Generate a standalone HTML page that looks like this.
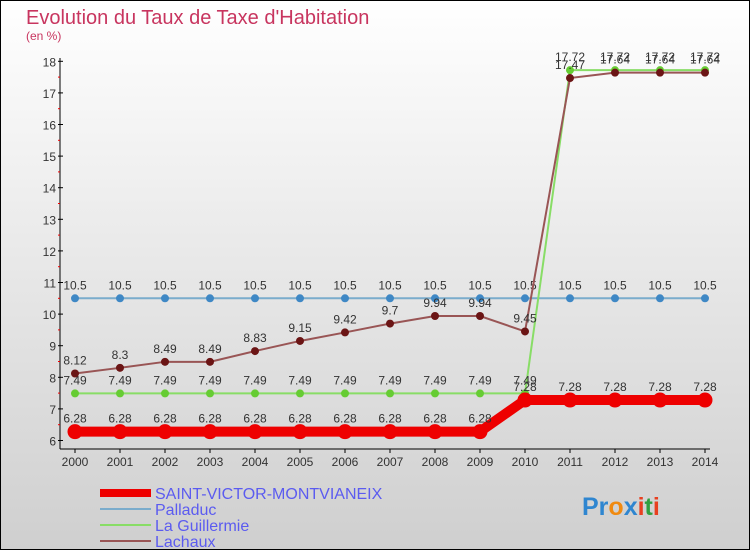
<!DOCTYPE html>
<html><head><meta charset="utf-8"><style>
body{margin:0;width:750px;height:550px;overflow:hidden}
svg{display:block;font-family:"Liberation Sans",sans-serif}
</style></head><body>
<svg id="c" width="750" height="550">
<defs><linearGradient id="bg" x1="0" y1="0" x2="0" y2="1"><stop offset="0" stop-color="#ffffff"/><stop offset="1" stop-color="#cfcfcf"/></linearGradient></defs>
<rect x="0.5" y="0.5" width="749" height="549" fill="url(#bg)" stroke="#000"/>
<text x="26" y="24" font-size="20" fill="#c8355f">Evolution du Taux de Taxe d'Habitation</text>
<text x="26" y="40" font-size="12" fill="#c8355f">(en %)</text>
<g id="axes"></g><g id="marks"></g>
<g>
<line x1="100" y1="493" x2="151" y2="493" stroke="#ee0000" stroke-width="8"/>
<text x="155" y="499" font-size="16" fill="#5b5bf0">SAINT-VICTOR-MONTVIANEIX</text>
<line x1="100" y1="509" x2="151" y2="509" stroke="#7aaccc" stroke-width="2"/>
<text x="155" y="515" font-size="16" fill="#5b5bf0">Palladuc</text>
<line x1="100" y1="525" x2="151" y2="525" stroke="#88dd66" stroke-width="2"/>
<text x="155" y="531" font-size="16" fill="#5b5bf0">La Guillermie</text>
<line x1="100" y1="541" x2="151" y2="541" stroke="#995555" stroke-width="2"/>
<text x="155" y="547" font-size="16" fill="#5b5bf0">Lachaux</text>
</g>
<text x="582" y="515" font-size="25" font-weight="bold"><tspan fill="#2f86d0">Pr</tspan><tspan fill="#f08a10">o</tspan><tspan fill="#2f86d0">x</tspan><tspan fill="#e84020">i</tspan><tspan fill="#30a040">t</tspan><tspan fill="#e84020">i</tspan></text>
</svg>
<script>
const years=[2000,2001,2002,2003,2004,2005,2006,2007,2008,2009,2010,2011,2012,2013,2014];
const yTicks=[6,7,8,9,10,11,12,13,14,15,16,17,18];
const saintVictor=[6.28,6.28,6.28,6.28,6.28,6.28,6.28,6.28,6.28,6.28,7.28,7.28,7.28,7.28,7.28];
const palladuc=[10.5,10.5,10.5,10.5,10.5,10.5,10.5,10.5,10.5,10.5,10.5,10.5,10.5,10.5,10.5];
const laGuillermie=[7.49,7.49,7.49,7.49,7.49,7.49,7.49,7.49,7.49,7.49,7.49,17.72,17.72,17.72,17.72];
const lachaux=[8.12,8.3,8.49,8.49,8.83,9.15,9.42,9.7,9.94,9.94,9.45,17.47,17.64,17.64,17.64];
const NS='http://www.w3.org/2000/svg';
const xs=i=>75+i*45, ys=v=>440.5-(v-6)*31.6;
function mk(p,t,a){const e=document.createElementNS(NS,t);for(const k in a)e.setAttribute(k,a[k]);p.appendChild(e);return e;}
const ax=document.getElementById('axes'),mg=document.getElementById('marks');
let l=mk(ax,'line',{x1:60,y1:58,x2:60,y2:449,stroke:'#000'});


l=mk(ax,'line',{x1:60,y1:449,x2:710,y2:449,stroke:'#000'});


yTicks.forEach(v=>{
 const y=ys(v);
 mk(ax,'line',{x1:58,y1:y,x2:63,y2:y,stroke:'#000'});
 if(v<18)mk(ax,'line',{x1:58,y1:y-15.8,x2:60,y2:y-15.8,stroke:'#e00'});
 const t=mk(ax,'text',{x:56,y:y+5,'font-size':12,fill:'#333','text-anchor':'end'});t.textContent=v;
 
 
});
years.forEach((yr,i)=>{
 mk(ax,'line',{x1:xs(i),y1:449,x2:xs(i),y2:453,stroke:'#000'});
 const t=mk(ax,'text',{x:xs(i),y:466,'font-size':12,fill:'#333','text-anchor':'middle'});t.textContent=yr;
 
 
});
function series(name,data,color,dot,w,r){
 const g=mk(mg,'g',{});
 
 
 mk(g,'polyline',{points:data.map((v,i)=>xs(i)+','+ys(v)).join(' '),fill:'none',stroke:color,'stroke-width':w});
 data.forEach((v,i)=>{
  const c=mk(g,'circle',{cx:xs(i),cy:ys(v),r:r,fill:dot});
  
  
  const t=mk(g,'text',{x:xs(i),y:ys(v)-9,'font-size':12,fill:'#333','text-anchor':'middle'});t.textContent=v;
  
  
 });
}
series('palladuc',palladuc,'#7aaccc','#3f88c5',2,4);
series('la-guillermie',laGuillermie,'#88dd66','#66cc33',2,4);
series('lachaux',lachaux,'#995555','#6b1515',2,4);
series('saint-victor',saintVictor,'#ee0000','#ee0000',10,7.5);
</script>
</body></html>
